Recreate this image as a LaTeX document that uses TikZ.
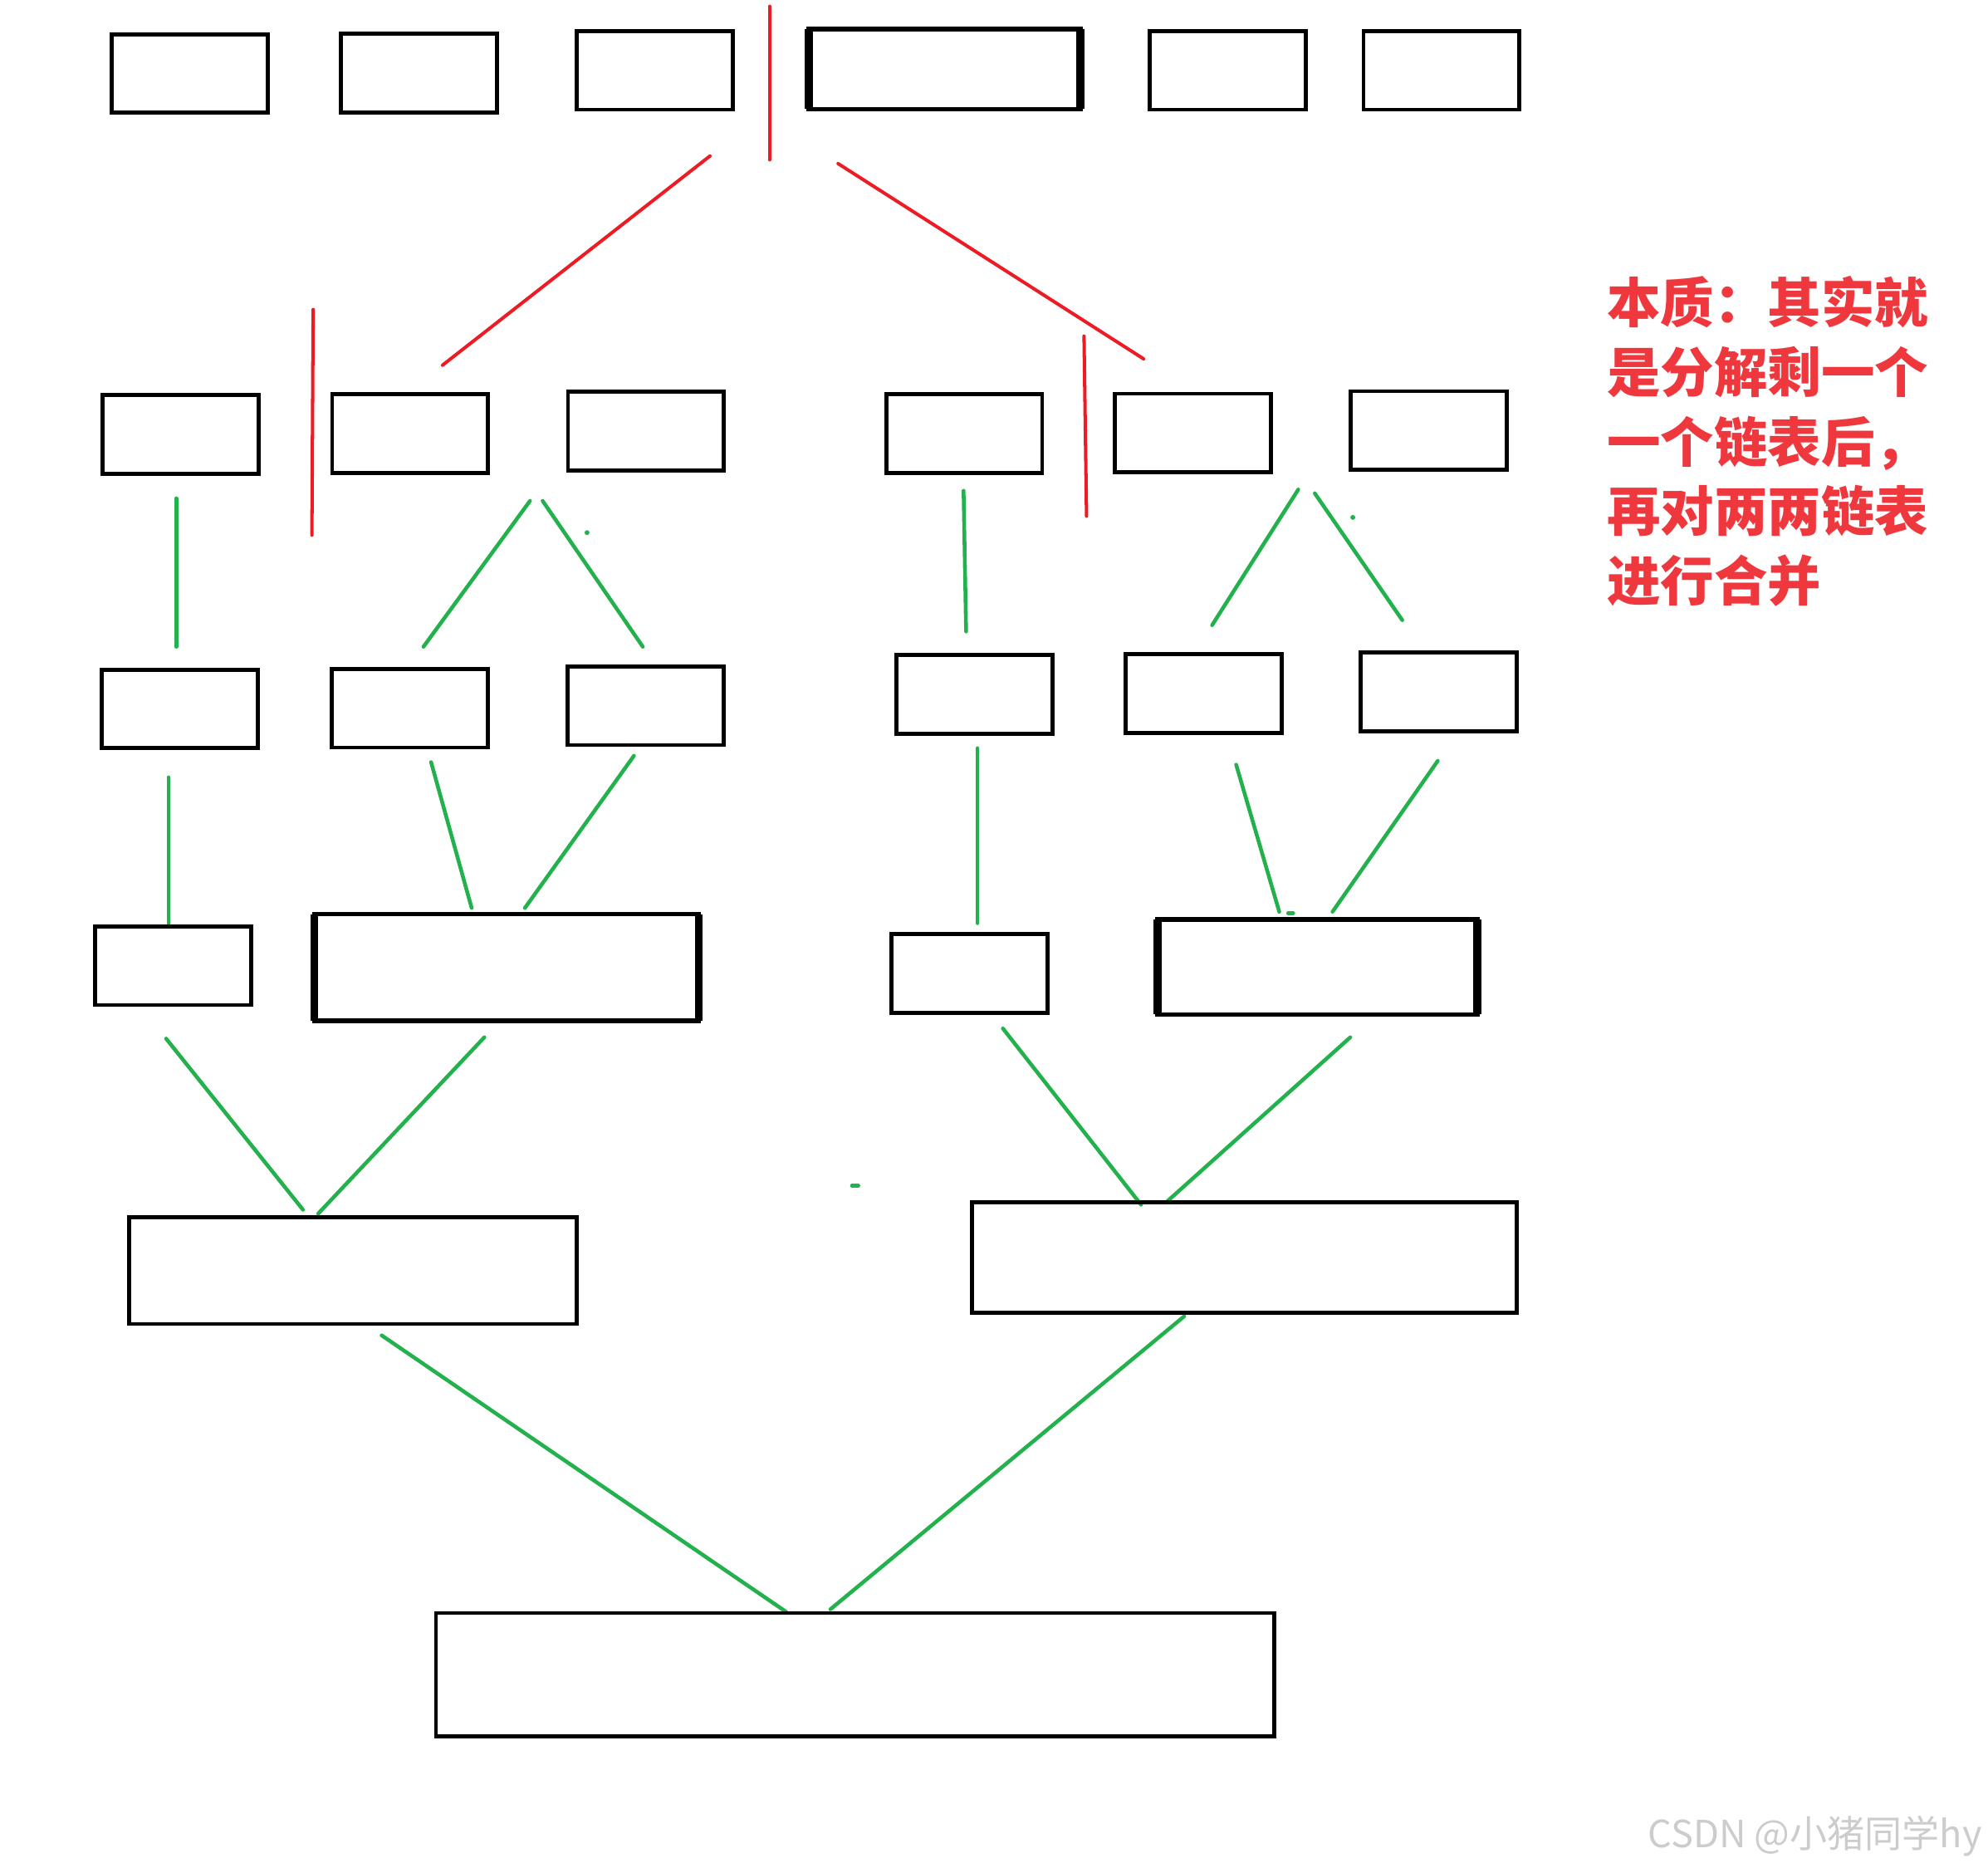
\documentclass[tikz,border=0pt]{standalone}
\usepackage{fontspec}
\newfontfamily\cjk{Noto Sans CJK SC}
\definecolor{pencilred}{RGB}{237,28,36}
\definecolor{notered}{RGB}{238,56,62}
\definecolor{pencilgreen}{RGB}{34,177,76}
\tikzset{
  listbox/.style={draw, line width=0.9pt, minimum width=1.23cm, minimum height=0.62cm, inner sep=0pt, outer sep=0pt},
  heavybox/.style={listbox, line width=1pt},
  heavyside/.style={line width=1.8pt},
  cutline/.style={pencilred, line width=0.75pt, line cap=round},
  mergeline/.style={pencilgreen, line width=0.85pt, line cap=round},
}
\begin{document}
\begin{tikzpicture}[x=0.01cm, y=-0.01cm]
    \useasboundingbox (0,0) rectangle (1568,1473);

    % the six lists
    \node[listbox] (A1) at (149.5,58) {};
    \node[listbox] (A2) at (330.5,57.5) {};
    \node[listbox] (A3) at (516.5,55.5) {};
    \node[heavybox, minimum width=2.14cm, minimum height=0.63cm] (A4) at (745,54.5) {};
    \node[listbox] (A5) at (968.5,55.5) {};
    \node[listbox] (A6) at (1137,55.5) {};
    \draw[heavyside] (A4.north west) -- (A4.south west);
    \draw[heavyside] (A4.north east) -- (A4.south east);

    % first split
    \coordinate (R0a) at (607,5);
    \coordinate (R0b) at (607,126);
    \coordinate (R1a) at (560,123);
    \coordinate (R1b) at (349,288);
    \coordinate (R2a) at (661,129);
    \coordinate (R2b) at (902,283);
    \draw[cutline] (R0a) -- (R0b);
    \draw[cutline] (R1a) -- (R1b);
    \draw[cutline] (R2a) -- (R2b);

    \node[listbox] (B1) at (142.5,342.5) {};
    \node[listbox] (B2) at (323.5,342) {};
    \node[listbox] (B3) at (509.5,340) {};
    \node[listbox] (B4) at (760.5,342) {};
    \node[listbox] (B5) at (941,341.5) {};
    \node[listbox] (B6) at (1127,339.5) {};

    % second split
    \coordinate (R3a) at (247,244);
    \coordinate (R3b) at (246,422);
    \coordinate (R4a) at (855,265);
    \coordinate (R4b) at (857,407);
    \draw[cutline] (R3a) -- (R3b);
    \draw[cutline] (R4a) -- (R4b);

    \coordinate (G1a) at (139,393);
    \coordinate (G1b) at (139,510);
    \coordinate (G2a) at (418,395);
    \coordinate (G2b) at (334,510);
    \coordinate (G3a) at (428,395);
    \coordinate (G3b) at (507,510);
    \coordinate (G4a) at (760,387);
    \coordinate (G4b) at (762,498);
    \coordinate (G5a) at (1024,386);
    \coordinate (G5b) at (956,493);
    \coordinate (G6a) at (1037,389);
    \coordinate (G6b) at (1106,489);
    \draw[mergeline] (G1a) -- (G1b);
    \draw[mergeline] (G2a) -- (G2b);
    \draw[mergeline] (G3a) -- (G3b);
    \draw[mergeline] (G4a) -- (G4b);
    \draw[mergeline] (G5a) -- (G5b);
    \draw[mergeline] (G6a) -- (G6b);
    \fill[pencilgreen] (463,420) circle (0.55pt);
    \fill[pencilgreen] (1067,408) circle (0.55pt);

    % single lists
    \node[listbox] (C1) at (142,559) {};
    \node[listbox] (C2) at (323,558.5) {};
    \node[listbox] (C3) at (509,556.5) {};
    \node[listbox] (C4) at (768.5,547.5) {};
    \node[listbox] (C5) at (949.5,547) {};
    \node[listbox] (C6) at (1134.5,545.5) {};

    \coordinate (H1a) at (133,613);
    \coordinate (H1b) at (133,730);
    \coordinate (H2a) at (340,601);
    \coordinate (H2b) at (372,716);
    \coordinate (H3a) at (500,596);
    \coordinate (H3b) at (414,716);
    \coordinate (H4a) at (771,590);
    \coordinate (H4b) at (771,728);
    \coordinate (H5a) at (975,603);
    \coordinate (H5b) at (1009,719);
    \coordinate (H6a) at (1134,600);
    \coordinate (H6b) at (1051,719);
    \draw[mergeline] (H1a) -- (H1b);
    \draw[mergeline] (H2a) -- (H2b);
    \draw[mergeline] (H3a) -- (H3b);
    \draw[mergeline] (H4a) -- (H4b);
    \draw[mergeline] (H5a) -- (H5b);
    \draw[mergeline] (H6a) -- (H6b);
    \draw[mergeline] (1016,720) -- (1020,720);

    % merged pairs
    \node[listbox] (D1) at (136.5,761.5) {};
    \node[heavybox, minimum width=3.03cm, minimum height=0.84cm] (D2) at (399.5,763) {};
    \node[listbox] (D3) at (764.5,767.5) {};
    \node[heavybox, minimum width=2.52cm, minimum height=0.75cm] (D4) at (1039,762.5) {};
    \draw[heavyside] (D2.north west) -- (D2.south west);
    \draw[heavyside] (D2.north east) -- (D2.south east);
    \draw[heavyside] (D4.north west) -- (D4.south west);
    \draw[heavyside] (D4.north east) -- (D4.south east);

    \coordinate (K1a) at (131,819);
    \coordinate (K1b) at (239,954);
    \coordinate (K2a) at (382,818);
    \coordinate (K2b) at (251,957);
    \coordinate (K3a) at (791,811);
    \coordinate (K3b) at (900,950);
    \coordinate (K4a) at (1065,818);
    \coordinate (K4b) at (921,947);
    \draw[mergeline] (K1a) -- (K1b);
    \draw[mergeline] (K2a) -- (K2b);
    \draw[mergeline] (K3a) -- (K3b);
    \draw[mergeline] (K4a) -- (K4b);
    \draw[mergeline] (672,935) -- (677,935);

    \node[listbox, minimum width=3.53cm, minimum height=0.84cm] (E1) at (278.5,1002) {};
    \node[listbox, minimum width=4.29cm, minimum height=0.87cm] (E2) at (981.5,991.5) {};

    \coordinate (L1a) at (301,1053);
    \coordinate (L1b) at (620,1271);
    \coordinate (L2a) at (934,1038);
    \coordinate (L2b) at (655,1269);
    \draw[mergeline] (L1a) -- (L1b);
    \draw[mergeline] (L2a) -- (L2b);

    % final list
    \node[listbox, minimum width=6.61cm, minimum height=0.97cm] (F) at (674.5,1320.5) {};

    \node[anchor=north west, inner sep=0pt, align=left, text=notered,
          font=\cjk\bfseries\fontsize{12}{15.6}\selectfont] (note) at (1267,217)
        {本质：其实就\\是分解剩一个\\一个链表后，\\再对两两链表\\进行合并};

    \node[anchor=base east, inner sep=0pt, text=black!20,
          font=\cjk\fontsize{8.4}{10}\selectfont] (mark) at (1564,1457) {CSDN @小猪同学hy};
\end{tikzpicture}
\end{document}
